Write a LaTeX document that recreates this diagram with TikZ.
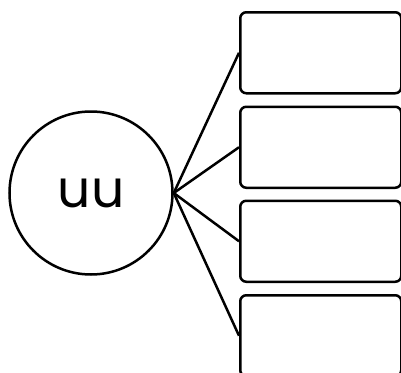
\documentclass[tikz,border=0pt]{standalone}
\usepackage{fontspec}
\setmainfont{Poppins}
\begin{document}
\begin{tikzpicture}[x=1pt,y=-1pt,
  every path/.style={line width=2.5pt},
  leaf/.style={draw,rounded corners=6pt,minimum width=161pt,minimum height=81pt,inner sep=0pt,line width=2.5pt},
  hub/.style={draw,circle,minimum size=163pt,inner sep=0pt,line width=2.5pt,font=\fontsize{52}{52}\selectfont}]
\useasboundingbox (0,0) rectangle (401,372);
\node[hub] (c) at (91,193) {uu};
\node[leaf,anchor=north west] (r1) at (239,11) {};
\node[leaf,anchor=north west] (r2) at (239,105.5) {};
\node[leaf,anchor=north west] (r3) at (239,199.5) {};
\node[leaf,anchor=north west] (r4) at (239,294) {};
\foreach \i in {1,2,3,4} \draw[line width=2.5pt] (c.east) -- (r\i.west);
\end{tikzpicture}
\end{document}
